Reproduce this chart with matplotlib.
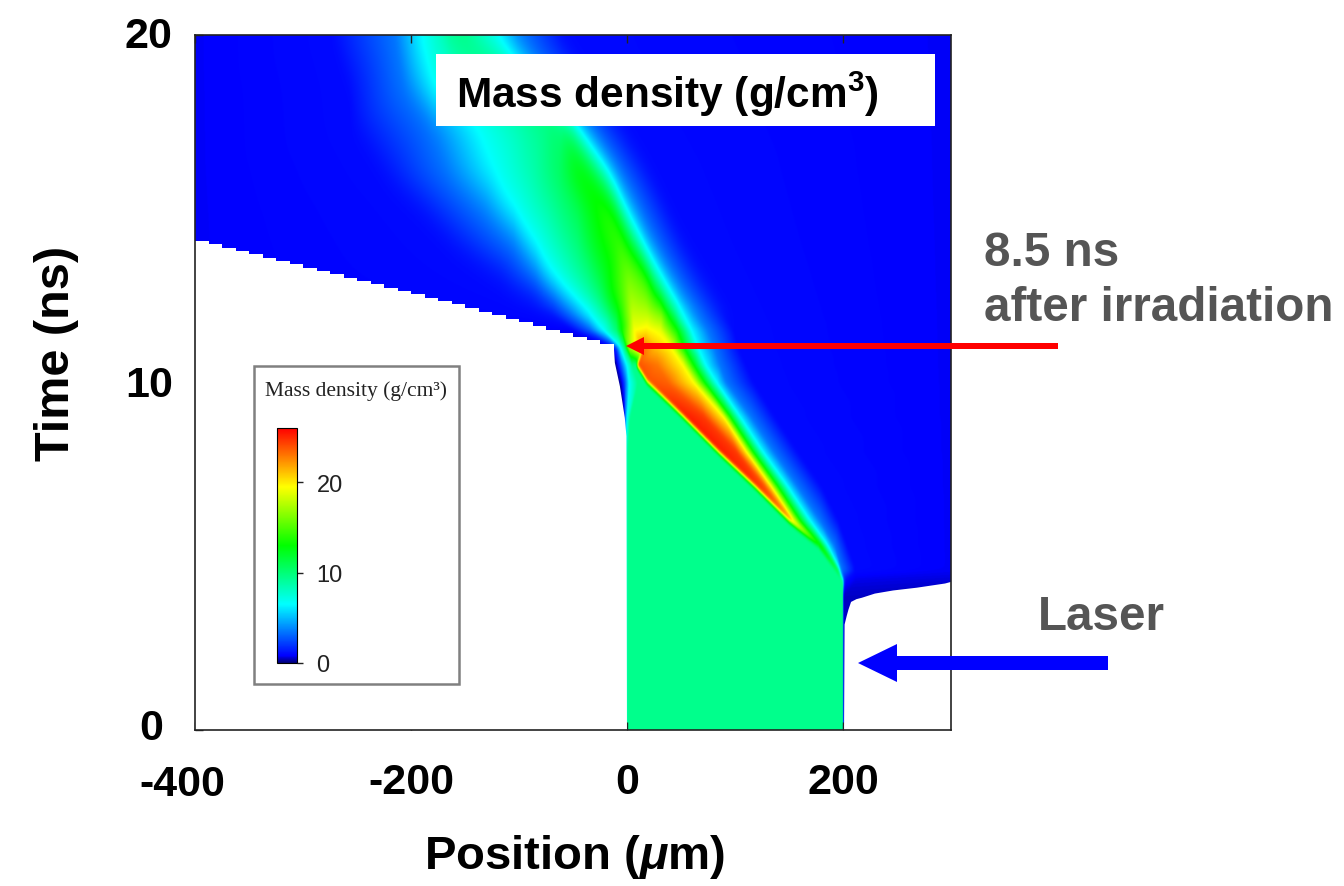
import numpy as np
import matplotlib
matplotlib.use('Agg')
import matplotlib.pyplot as plt
import matplotlib.tri as mtri
from matplotlib.colors import LinearSegmentedColormap, Normalize
from matplotlib.patches import Rectangle, FancyArrow
from matplotlib.transforms import ScaledTranslation

plt.rcParams['font.family'] = ['Liberation Sans', 'DejaVu Sans']
plt.rcParams['mathtext.fontset'] = 'custom'
plt.rcParams['mathtext.bf'] = 'Liberation Sans:bold'
plt.rcParams['mathtext.it'] = 'Liberation Sans:italic:bold'

# field: one row per time, columns follow the same features
times = [20, 18.5, 17.4, 16, 15, 14, 13, 12.5, 12, 11.5, 11, 10.5, 10, 9, 8, 7, 6, 5.3, 4.6, 4.3, 3.9, 0]
x_rows = [
    [-400, -274, -215, -191, -175, -165, -155, -152, -148, -138, -123, -101, -61, 300],
    [-400, -258, -206, -179, -150, -125, -105, -100, -95, -92, -85, -65, -30, 300],
    [-400, -255, -181, -138, -95, -73, -60, -57, -54, -52, -49, -36, -6, 300],
    [-400, -228, -166, -123, -89, -64, -45, -38, -32, -24, -17, -6, 22, 300],
    [-400, -195, -135, -105, -70, -45, -22, -16, -12, -7, -2, 10, 38, 300],
    [-400, -165, -105, -85, -46, -32, -8, -3, 1, 8, 14, 25, 53, 300],
    [-400, -120, -83, -68, -33, -20, 1, 10, 20, 25, 32, 43, 71, 300],
    [-400, -92, -67, -52, -27, -16, 2, 15, 28, 34, 41, 53, 81, 300],
    [-400, -70, -52, -37, -18, -10, 5, 20, 32, 42, 50, 64, 90, 300],
    [-400, -50, -34, -22, -10, -5, 7, 18, 31, 47, 60, 75, 99, 300],
    [-400, -14, -10, -6, -2, 2, 16, 28, 41, 53, 66, 81, 103, 300],
    [-11.5, -9, -5, 0, 5, 8, 10, 28, 52, 62, 73, 86, 110, 300],
    [-9, -5, -2, 2, 10, 18, 20, 38, 62, 72, 83, 92, 117, 300],
    [-3.5, -2.5, -1.5, 0, 3, 52, 53, 72, 90, 96, 105, 115, 137, 300],
    [-2, -1.5, -1, -0.5, 1, 84, 85, 102, 111, 117, 126, 136, 158, 300],
    [-2, -1.5, -1, -0.5, 1, 118, 119, 128, 134, 140, 149, 158, 180, 300],
    [-2, -1.5, -1, -0.5, 1, 150, 151, 153, 155, 161, 170, 179, 196, 300],
    [-2, -1.5, -1, -0.5, 1, 177, 177.5, 178, 178.5, 180, 186, 192, 204, 300],
    [-2, -1.5, -1, -0.5, 1, 193.5, 194, 194.5, 195, 195.5, 197, 199, 212, 300],
    [-2, -1.5, -1, -0.5, 1, 199.5, 200, 200.3, 200.6, 200.9, 201.2, 203, 212, 300],
    [-2, -1.5, -1, -0.5, 1, 200, 200.3, 200.6, 200.9, 201.2, 201.5, 203, 212, 300],
    [-2, -1.5, -1, -0.5, 1, 200, 200.3, 200.6, 200.9, 201.2, 201.5, 203, 212, 300],
]
rho_rows = [
    [0.8, 1, 3.5, 6.5, 8, 9.2, 9.5, 9.4, 9.2, 8, 6.5, 3.5, 1, 0.8],
    [0.8, 1, 3.5, 6.5, 8, 9, 9.8, 9.6, 9.4, 9, 6.5, 3.5, 1, 0.8],
    [0.8, 1, 3.5, 6.5, 8.6, 9.7, 10.2, 10, 9.8, 9.5, 6.5, 3.5, 1, 0.8],
    [0.8, 1, 3.5, 6.5, 8.5, 10.5, 13, 12.8, 12, 10, 6.5, 3.5, 1, 0.8],
    [0.8, 1, 3.5, 6.5, 9, 11, 13.8, 13.5, 12.5, 10, 6.5, 3.5, 1, 0.8],
    [0.8, 1, 3.5, 6.5, 10, 12, 14.5, 14, 13, 10, 6.5, 3.5, 1, 0.8],
    [0.8, 1, 3.5, 6.5, 10, 12, 16, 15.5, 14, 10, 6.5, 3.5, 1, 0.8],
    [0.8, 1, 3.5, 6.5, 10, 13, 17, 16, 13, 10, 6.5, 3.5, 1, 0.8],
    [0.7, 1, 3.5, 6.5, 10, 12, 18, 17.5, 16, 11, 6.5, 3.5, 1, 0.8],
    [0.6, 0.8, 3, 6.5, 10, 13, 19.5, 20, 19, 13, 6.5, 3.5, 1, 0.8],
    [0.3, 0.4, 2, 6.5, 10, 17, 23, 21, 19.5, 13, 6.5, 3.5, 1, 0.8],
    [0.1, 0.5, 3, 6.5, 9.4, 9.4, 24, 23, 19.5, 13, 6.5, 3.5, 1, 0.8],
    [0.1, 0.5, 2.5, 6.5, 9.4, 9.4, 24, 23.5, 19.5, 13, 6.5, 3.5, 1, 0.8],
    [0.1, 0.5, 3.5, 6.5, 9.4, 9.4, 25.5, 24.5, 19.5, 13, 6.5, 3.5, 1, 0.8],
    [6, 7, 7, 8, 9.4, 9.4, 25.5, 24.5, 19.5, 13, 6.5, 3.5, 1, 0.8],
    [6, 7, 7, 8, 9.4, 9.4, 25, 24, 19.5, 13, 6.5, 3.5, 1, 0.8],
    [6, 7, 7, 8, 9.4, 9.4, 23, 22, 19.5, 13, 6.5, 3.5, 1, 0.8],
    [6, 7, 7, 8, 9.4, 9.4, 15, 14.8, 14.5, 13, 6.5, 3.5, 1, 0.8],
    [6, 7, 7, 8, 9.4, 9.4, 12.5, 12.3, 12, 11, 6.5, 3.5, 1, 0.8],
    [6, 7, 7, 8, 9.4, 9.4, 9, 8, 6, 4, 2.5, 1, 0.7, 0.6],
    [6, 7, 7, 8, 9.4, 9.4, 3, 1.5, 0.8, 0.5, 0.5, 0.5, 0.5, 0.5],
    [6, 7, 7, 8, 9.4, 9.4, 3, 1.5, 0.8, 0.5, 0.5, 0.5, 0.5, 0.5],
]

# vacuum edge on the left (stepped cells), then the curved part going down
vac_step_x = [-400, -387.5, -375, -362.5, -350, -337.5, -325, -312.5, -300, -287.5, -275,
              -262.5, -250, -237.5, -225, -212.5, -200, -187.5, -175, -162.5, -150, -137.5,
              -125, -112.5, -100, -87.5, -75, -62.5, -50, -37.5, -25, -12.5]
vac_step_t = [14.07, 13.98, 13.88, 13.78, 13.69, 13.59, 13.50, 13.40, 13.30, 13.21, 13.11,
              13.02, 12.92, 12.83, 12.73, 12.63, 12.54, 12.44, 12.35, 12.25, 12.14, 12.04,
              11.94, 11.83, 11.73, 11.63, 11.52, 11.42, 11.31, 11.21, 11.11, 11.02]
vac_curve_t = [0, 8.47, 9.0, 9.9, 10.58, 10.96]
vac_curve_x = [-0.5, -1, -2.5, -7, -11.7, -12.5]
# vacuum edge on the laser side
vac_right_x = [200.5, 201, 203, 204.6, 207, 212, 217, 229, 246, 268, 294, 300]
vac_right_t = [0, 3.05, 3.3, 3.48, 3.7, 3.78, 3.82, 3.94, 4.03, 4.11, 4.23, 4.28]

x_ticks = [-400, -200, 0, 200]
x_tick_labels = ['-400', '-200', '0', '200']
y_ticks = [0, 10, 20]
bar_ticks = [0, 10, 20]

cmap = LinearSegmentedColormap.from_list('density', [
    (0, (0, 0, 0.45)), (0.8 / 26, (0, 0, 1)), (6.5 / 26, (0, 1, 1)),
    (13 / 26, (0, 1, 0)), (19.5 / 26, (1, 1, 0)), (1, (1, 0, 0))], N=512)
norm = Normalize(0, 26)


def blur_time(arr, sigma):
    # soften along the time axis, the table rows leave kinks otherwise
    half = int(3 * sigma)
    kernel = np.exp(-0.5 * (np.arange(-half, half + 1) / sigma) ** 2)
    kernel = kernel / kernel.sum()
    padded = np.pad(arr, ((half, half), (0, 0)), mode='edge')
    out = np.zeros_like(arr)
    for col in range(arr.shape[1]):
        out[:, col] = np.convolve(padded[:, col], kernel, mode='valid')
    return out


fig = plt.figure(figsize=(13.44, 8.87), dpi=100)
W, H = 1344, 887
ax = fig.add_axes([195 / W, 1 - 731 / H, 756 / W, 695 / H])

# mesh of the table rows, filled in by the triangle interpolator
x_mesh = np.array(x_rows, dtype=float)
rho_mesh = np.array(rho_rows, dtype=float)
t_mesh = np.repeat(np.array(times, dtype=float)[:, None], x_mesh.shape[1], axis=1)
n_r, n_c = x_mesh.shape
triangles = []
for i in range(n_r - 1):
    for j in range(n_c - 1):
        a = i * n_c + j
        triangles.append([a, a + 1, a + n_c])
        triangles.append([a + 1, a + n_c + 1, a + n_c])
tri = mtri.Triangulation(x_mesh.ravel(), t_mesh.ravel(), np.array(triangles))
interp = mtri.LinearTriInterpolator(tri, rho_mesh.ravel())
gx, gt = np.meshgrid(np.linspace(-400, 300, 1400), np.linspace(0, 20, 1390))
field = np.ma.filled(interp(gx, gt), 0.8)
soft = blur_time(field, 5)
softer = blur_time(field, 28)
weight = np.clip((gt - 11.5) / 0.7, 0, 1)
field = soft * (1 - weight) + softer * weight
im = ax.imshow(field, origin='lower', extent=[-400, 300, 0, 20], aspect='auto',
               cmap=cmap, norm=norm, interpolation='bilinear')

ax.fill_between(vac_step_x, 0, vac_step_t, step='post', color='white', lw=0, zorder=2)
ax.fill_betweenx(vac_curve_t, -13, vac_curve_x, color='white', lw=0, zorder=2)
ax.fill_between(vac_right_x, 0, vac_right_t, color='white', lw=0, zorder=2)

ax.set_xlim(-400, 300)
ax.set_ylim(0, 20)
ax.set_xticks(x_ticks)
ax.set_xticklabels(x_tick_labels)
ax.set_yticks(y_ticks)
ax.tick_params(direction='in', length=6, width=1, top=True, right=False, color='#222222')
ax.tick_params(axis='x', pad=23, labelsize=31)
ax.tick_params(axis='y', pad=16, labelsize=31)
for side in ax.spines.values():
    side.set_linewidth(1.2)
    side.set_color('#222222')
for lab in ax.get_xticklabels() + ax.get_yticklabels():
    lab.set_fontweight('bold')

# labels are nudged by hand in the original slide
shift = ScaledTranslation(-13 / 100, -2 / 100, fig.dpi_scale_trans)
ax.get_xticklabels()[0].set_transform(ax.get_xticklabels()[0].get_transform() + shift)
shift = ScaledTranslation(-10 / 100, 6 / 100, fig.dpi_scale_trans)
ax.get_yticklabels()[0].set_transform(ax.get_yticklabels()[0].get_transform() + shift)
shift = ScaledTranslation(0, 2 / 100, fig.dpi_scale_trans)
ax.get_yticklabels()[1].set_transform(ax.get_yticklabels()[1].get_transform() + shift)
shift = ScaledTranslation(0, 3 / 100, fig.dpi_scale_trans)
ax.get_yticklabels()[2].set_transform(ax.get_yticklabels()[2].get_transform() + shift)

ax.set_xlabel('Position ($\\mathit{\\mu}$m)', fontsize=34, fontweight='bold', va='center')
ax.xaxis.set_label_coords(0.5026, -0.182)
ax.set_ylabel('Time (ns)', fontsize=35, fontweight='bold', va='center')
ax.yaxis.set_label_coords(-0.183, 0.543)

# overlay in pixel coordinates for the slide annotations
ov = fig.add_axes([0, 0, 1, 1], zorder=5)
ov.set_xlim(0, W)
ov.set_ylim(H, 0)
ov.axis('off')
ov.patch.set_alpha(0)

ov.add_patch(Rectangle((436, 55), 499, 72, fc='white', ec='none'))
ov.text(456, 94, 'Mass density (g/cm$^{\\mathbf{3}}$)', fontsize=30.5, fontweight='bold',
        va='center', color='black')
ov.add_patch(Rectangle((254, 367), 205, 318, fc='white', ec='#808080', lw=1.8))
ov.text(356, 391, 'Mass density (g/cm³)', fontsize=15.5, family='Liberation Serif',
        ha='center', va='center', color='#222222')

ov.text(984, 254, '8.5 ns', fontsize=34.3, fontweight='bold', va='center', color='#555555')
ov.text(984, 309, 'after irradiation', fontsize=34.3, fontweight='bold', va='center', color='#555555')
ov.text(1038, 618, 'Laser', fontsize=34.3, fontweight='bold', va='center', color='#555555')

ov.add_patch(FancyArrow(1058, 347, -432, 0, width=6, head_width=18, head_length=18,
                        length_includes_head=True, fc='#ff0000', ec='none'))
ov.add_patch(FancyArrow(1108, 664, -250, 0, width=14, head_width=38, head_length=39,
                        length_includes_head=True, fc='#0000ff', ec='none'))

cax = fig.add_axes([277 / W, 1 - 664 / H, 20 / W, 235 / H], zorder=6)
cbar = fig.colorbar(im, cax=cax, ticks=bar_ticks)
cbar.ax.tick_params(length=4, width=1, labelsize=17, pad=10, colors='#222222')
cbar.outline.set_linewidth(0.8)

fig.savefig('out.png', dpi=100)
